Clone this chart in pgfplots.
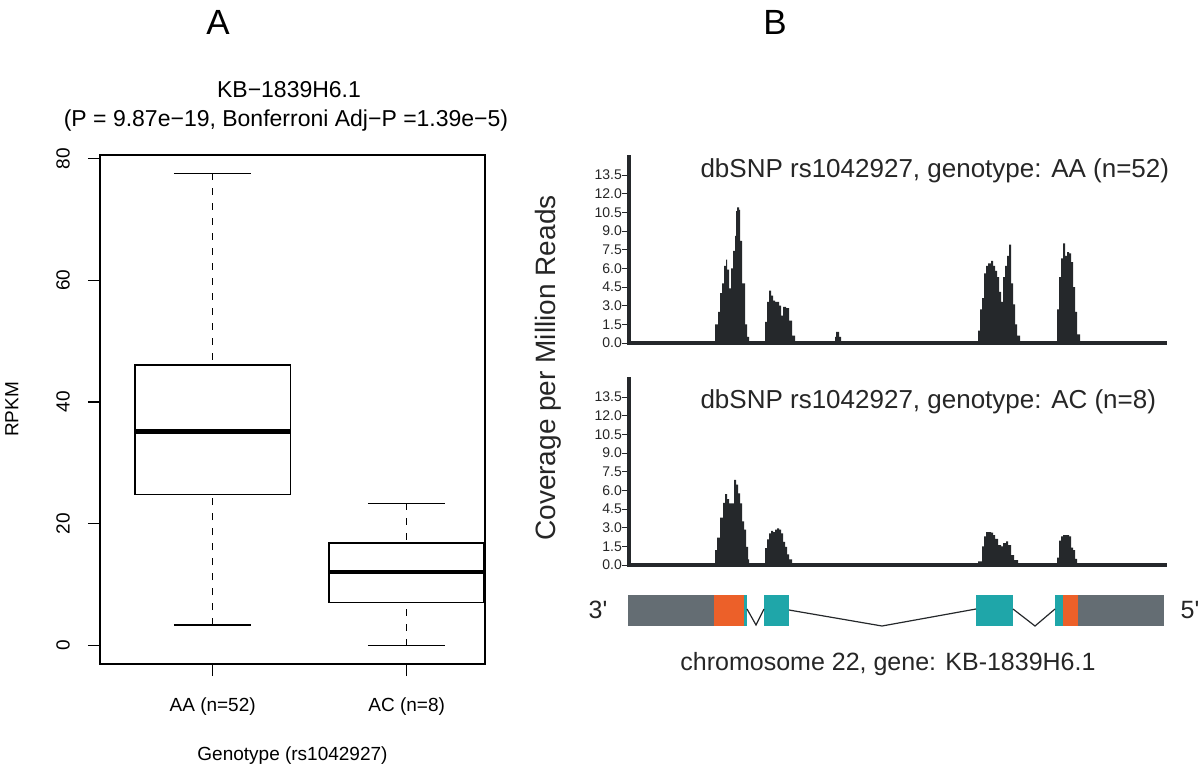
\documentclass[border=0pt]{standalone}
\usepackage{fontspec}
\setmainfont{Liberation Sans}
\usepackage{pgfplots}
\pgfplotsset{compat=1.18}
\definecolor{cov}{HTML}{25282B}
\definecolor{genegrey}{HTML}{646D73}
\definecolor{geneorange}{HTML}{EC6029}
\definecolor{geneteal}{HTML}{1FA6A9}
\definecolor{txtB}{HTML}{262626}
\newcommand{\fA}{\fontsize{19}{22}\selectfont}
\newcommand{\fAt}{\fontsize{23}{29}\selectfont}
\newcommand{\fB}{\fontsize{25}{29}\selectfont}
\newcommand{\fBh}{\fontsize{26}{30}\selectfont}
\newcommand{\fBt}{\fontsize{14}{16}\selectfont}
\begin{document}
\begin{tikzpicture}
\useasboundingbox (0pt,0pt) rectangle (1200pt,-768pt);

% ---------------- Panel A ----------------
\begin{axis}[
  at={(100pt,-155pt)}, anchor=north west,
  scale only axis, width=385pt, height=509pt,
  xmin=0.419, xmax=2.404, ymin=-3.1, ymax=80.6,
  axis line style={line width=1.3pt, black},
  xtick={1,2}, xticklabels={AA (n=52),AC (n=8)},
  ytick={0,20,40,60,80},
  tick align=outside, xtick pos=bottom, ytick pos=left,
  major tick length=12pt,
  tick style={line width=1.3pt, black},
  ticklabel style={font=\fA},
  /pgf/number format/assume math mode=true,
  yticklabel style={rotate=90, anchor=south, inner sep=0pt},
  yticklabel shift=18pt,
  xticklabel style={anchor=base, inner sep=0pt},
  xticklabel shift=35pt,
  xlabel={Genotype (rs1042927)}, ylabel={RPKM},
  every axis x label/.style={at={(axis description cs:0.5,-0.1886)}, anchor=base, font=\fA},
  every axis y label/.style={at={(axis description cs:-0.229,0.5)}, rotate=90, anchor=center, font=\fA},
  clip=false,
]
% AA
\addplot[line width=1.5pt, black, fill=white] coordinates {(0.6,24.8) (1.4,24.8) (1.4,46.1) (0.6,46.1)} -- cycle;
\addplot[line width=4.5pt, black] coordinates {(0.6,35.1) (1.4,35.1)};
\addplot[line width=1.3pt, black, dash pattern=on 7pt off 8pt] coordinates {(1,77.6) (1,46.1)};
\addplot[line width=1.3pt, black, dash pattern=on 7pt off 8pt] coordinates {(1,3.3) (1,24.8)};
\addplot[line width=1.4pt, black] coordinates {(0.8,77.6) (1.2,77.6)};
\addplot[line width=1.4pt, black] coordinates {(0.8,3.3) (1.2,3.3)};
% AC
\addplot[line width=1.5pt, black, fill=white] coordinates {(1.6,7.0) (2.4,7.0) (2.4,16.8) (1.6,16.8)} -- cycle;
\addplot[line width=4.5pt, black] coordinates {(1.6,12.0) (2.4,12.0)};
\addplot[line width=1.3pt, black, dash pattern=on 7pt off 8pt] coordinates {(2,23.3) (2,16.8)};
\addplot[line width=1.3pt, black, dash pattern=on 7pt off 8pt] coordinates {(2,-0.1) (2,7.0)};
\addplot[line width=1.4pt, black] coordinates {(1.8,23.3) (2.2,23.3)};
\addplot[line width=1.4pt, black] coordinates {(1.8,-0.1) (2.2,-0.1)};
\end{axis}

% ---------------- Panel B: AA coverage ----------------
\begin{axis}[
  at={(629pt,-343pt)}, anchor=south west,
  scale only axis, width=536pt, height=185.4pt,
  xmin=629, xmax=1165, ymin=0, ymax=14.9,
  axis lines=left,
  axis line style={-, line width=4.6pt, cov, line cap=rect},
  xtick=\empty,
  ytick={0,1.5,3,4.5,6,7.5,9,10.5,12,13.5},
  yticklabels={0.0,1.5,3.0,4.5,6.0,7.5,9.0,10.5,12.0,13.5},
  tick align=outside, major tick length=7pt, tick style={line width=1pt, cov},
  yticklabel style={font=\fBt, anchor=east, inner sep=0pt, text=txtB},
]
\addplot[const plot, fill=cov, draw=none] coordinates {
(629,0) (715,1.5) (718,2.5) (720,4.0) (722,4.8) (724,6.2) (726,6.7) (727,5.9) (729,4.4) (731,6.0) (733,7.4) (735,8.6) (736,10.6) (737,10.9) (739,10.7) (740,8.2) (742,4.8) (745,1.5) (747,0.5) (749,0)
(765,1.7) (767,3.3) (769,4.2) (771,3.8) (773,3.4) (775,3.3) (779,3.0) (781,2.2) (783,2.9) (786,2.8) (789,1.8) (792,0.6) (795,0)
(835,0.5) (836,0.9) (839,0.5) (841,0)
(978,1.0) (980,2.7) (982,3.6) (984,5.6) (986,6.2) (988,6.4) (991,6.6) (993,6.2) (995,5.8) (997,5.3) (999,4.1) (1001,3.3) (1003,5.3) (1005,6.2) (1007,7.0) (1009,7.9) (1011,4.8) (1013,3.1) (1015,1.5) (1017,0.6) (1020,0)
(1057,2.7) (1059,5.3) (1061,6.8) (1063,8.0) (1065,7.0) (1067,7.3) (1069,7.2) (1071,6.5) (1073,4.5) (1075,2.5) (1077,0.7) (1080,0) (1165,0)
} \closedcycle;
\end{axis}

% ---------------- Panel B: AC coverage ----------------
\begin{axis}[
  at={(629pt,-565pt)}, anchor=south west,
  scale only axis, width=536pt, height=185.4pt,
  xmin=629, xmax=1165, ymin=0, ymax=14.9,
  axis lines=left,
  axis line style={-, line width=4.6pt, cov, line cap=rect},
  xtick=\empty,
  ytick={0,1.5,3,4.5,6,7.5,9,10.5,12,13.5},
  yticklabels={0.0,1.5,3.0,4.5,6.0,7.5,9.0,10.5,12.0,13.5},
  tick align=outside, major tick length=7pt, tick style={line width=1pt, cov},
  yticklabel style={font=\fBt, anchor=east, inner sep=0pt, text=txtB},
]
\addplot[const plot, fill=cov, draw=none] coordinates {
(629,0) (715,1.2) (717,2.2) (720,3.8) (723,5.0) (725,5.7) (727,5.3) (729,4.95) (734,6.85) (736,6.45) (738,5.75) (740,4.95) (742,3.5) (744,2.85) (746,1.45) (748,0.45) (749,0)
(765,1.35) (767,2.05) (769,2.55) (771,2.75) (773,2.65) (775,2.85) (777,2.95) (779,2.85) (781,2.55) (783,1.85) (785,1.45) (787,0.85) (789,0.45) (792,0)
(978,0.3) (982,1.5) (984,2.3) (986,2.65) (991,2.6) (993,2.4) (995,2.1) (998,1.6) (1001,1.5) (1003,1.75) (1006,1.9) (1008,1.6) (1011,0.8) (1014,0.4) (1018,0)
(1057,0.6) (1059,1.95) (1061,2.3) (1063,2.4) (1067,2.4) (1069,2.3) (1071,1.4) (1073,1.2) (1075,0.5) (1077,0) (1165,0)
} \closedcycle;
\end{axis}

% ---------------- Gene model ----------------
\begin{axis}[
  at={(620pt,-590pt)}, anchor=north west,
  scale only axis, width=555pt, height=50pt,
  xmin=620, xmax=1175, ymin=590, ymax=640, y dir=reverse,
  hide axis, clip=false,
]
\addplot[fill=genegrey, draw=none] coordinates {(628,595) (714,595) (714,626) (628,626)} -- cycle;
\addplot[fill=geneorange, draw=none] coordinates {(714,595) (743.5,595) (743.5,626) (714,626)} -- cycle;
\addplot[fill=geneteal, draw=none] coordinates {(743.5,595) (747,595) (747,626) (743.5,626)} -- cycle;
\addplot[fill=geneteal, draw=none] coordinates {(764,595) (789,595) (789,626) (764,626)} -- cycle;
\addplot[fill=geneteal, draw=none] coordinates {(976,595) (1013,595) (1013,626) (976,626)} -- cycle;
\addplot[fill=geneteal, draw=none] coordinates {(1055,595) (1063,595) (1063,626) (1055,626)} -- cycle;
\addplot[fill=geneorange, draw=none] coordinates {(1063,595) (1078,595) (1078,626) (1063,626)} -- cycle;
\addplot[fill=genegrey, draw=none] coordinates {(1078,595) (1164,595) (1164,626) (1078,626)} -- cycle;
\addplot[line width=1.2pt, cov] coordinates {(747,609) (756,625) (764,609)};
\addplot[line width=1.2pt, cov] coordinates {(789,610) (882,626) (976,609)};
\addplot[line width=1.2pt, cov] coordinates {(1013,609) (1035,626) (1055,609)};
\end{axis}

% ---------------- Texts ----------------
\node[font=\fontsize{35}{40}\selectfont] at (218pt,-22pt) {A};
\node[font=\fontsize{35}{40}\selectfont] at (775pt,-22pt) {B};
\node[font=\fAt, anchor=base] at (289pt,-97pt) {KB−1839H6.1};
\node[font=\fAt, anchor=base] at (286pt,-126pt) {(P = 9.87e−19, Bonferroni Adj−P =1.39e−5)};
\node[font=\fBh, text=txtB, anchor=base west] at (697pt,-177pt) {dbSNP rs1042927, genotype: AA (n=52)};
\node[font=\fBh, text=txtB, anchor=base west] at (697pt,-408pt) {dbSNP rs1042927, genotype: AC (n=8)};
\node[font=\fontsize{28}{30}\selectfont, text=txtB, rotate=90] at (548pt,-368pt) {Coverage per Million Reads};
\node[font=\fB, text=txtB] at (598pt,-610pt) {3\textquotesingle};
\node[font=\fB, text=txtB] at (1190pt,-610pt) {5\textquotesingle};
\node[font=\fB, text=txtB, anchor=base] at (888pt,-670pt) {chromosome 22, gene: KB-1839H6.1};
\end{tikzpicture}
\end{document}
